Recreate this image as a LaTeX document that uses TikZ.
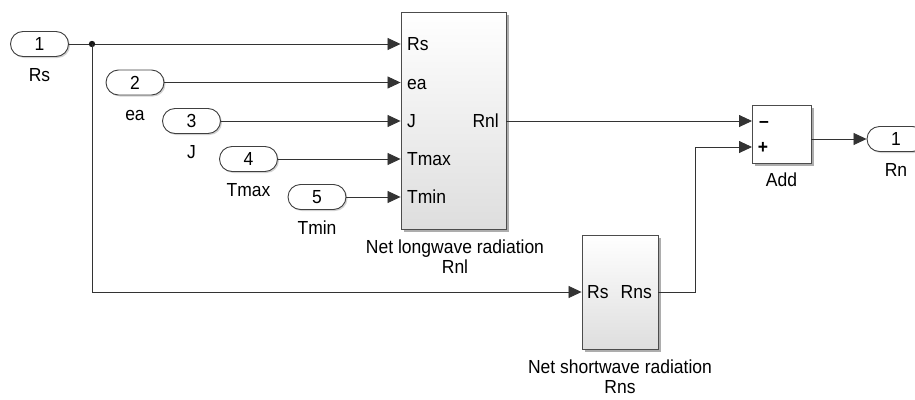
\documentclass[tikz,border=0pt]{standalone}
\usepackage{fontspec}
\setmainfont{Liberation Sans}
\usetikzlibrary{arrows.meta,shadows}
\newcommand{\stt}[1]{\scalebox{1}[1.08]{#1}}
\begin{document}
\begin{tikzpicture}[x=1pt,y=-1pt,
  font=\fontsize{17.5}{20}\selectfont,
  wire/.style={draw=black!80, line width=0.85pt},
  sig/.style={wire, -{Triangle[length=13pt,width=12pt]}},
  shd/.style={drop shadow={shadow xshift=2.5pt, shadow yshift=-2.5pt, fill=black!40, opacity=0.8}},
  inport/.style={draw=black!75, line width=0.9pt, fill=white, rounded corners=12.5pt,
    minimum width=58pt, minimum height=25pt, inner sep=0pt, text height=13.5pt, text depth=0pt,
    drop shadow={shadow xshift=1.5pt, shadow yshift=-1.5pt, fill=black!25, opacity=0.7}},
  blk/.style={draw=black!70, line width=0.9pt, top color=white, bottom color=black!13,
    inner sep=0pt, shd},
  addblk/.style={draw=black!70, line width=0.9pt, fill=white, inner sep=0pt, shd},
  lbl/.style={inner sep=0pt, text height=13.5pt, text depth=0pt},
  blbl/.style={inner sep=0pt, align=center, anchor=north}
]
\useasboundingbox (0,0) rectangle (915,399);

% inports
\node[inport] (in1) at (39.5,44) {\stt{1}};
\node[inport] (in2) at (135,82.5) {\stt{2}};
\node[inport] (in3) at (191.5,121) {\stt{3}};
\node[inport] (in4) at (248.5,159) {\stt{4}};
\node[inport] (in5) at (317,197) {\stt{5}};
\node[lbl] (l1) at ([yshift=-31pt]in1.center) {\stt{Rs}};
\node[lbl] (l2) at ([yshift=-31pt]in2.center) {\stt{ea}};
\node[lbl] (l3) at ([yshift=-31pt]in3.center) {\stt{J}};
\node[lbl] (l4) at ([yshift=-31pt]in4.center) {\stt{Tmax}};
\node[lbl] (l5) at ([yshift=-31pt]in5.center) {\stt{Tmin}};

% blocks
\node[blk, minimum width=105pt, minimum height=217pt] (rnl) at (453.5,120.5) {};
\node[blk, minimum width=76pt, minimum height=114pt] (rns) at (620,292) {};
\node[addblk, minimum width=59pt, minimum height=58pt] (add) at (781.5,134) {};

% outport
\node[inport] (out1) at (896,139) {\stt{1}};
\node[lbl] (lo) at ([yshift=-31pt]out1.center) {\stt{Rn}};

% port coordinates
\coordinate (addm) at (752,121);
\coordinate (addp) at (752,147);
\coordinate (addo) at (811,139);
\coordinate (rnlo) at (506,121);
\coordinate (bend) at (695,292);
\coordinate (j) at (92,44);

% port labels
\node[lbl, anchor=west] (pRs) at (407,44) {\stt{Rs}};
\node[lbl, anchor=west] (pea) at (407,82.5) {\stt{ea}};
\node[lbl, anchor=west] (pJ) at (407,121) {\stt{J}};
\node[lbl, anchor=west] (pTmax) at (407,159) {\stt{Tmax}};
\node[lbl, anchor=west] (pTmin) at (407,197) {\stt{Tmin}};
\node[lbl, anchor=east] (pRnl) at (499,121) {\stt{Rnl}};
\node[lbl, anchor=west] (pRs2) at (587,292) {\stt{Rs}};
\node[lbl, anchor=east] (pRns) at (652,292) {\stt{Rns}};
\node[lbl] (pm) at (764,121) {\stt{\textbf{–}}};
\node[lbl] (pp) at (763,147) {\stt{\textbf{+}}};

% block labels
\node[blbl] (lrnl) at (455,240) {\stt{Net longwave radiation}\\\stt{Rnl}};
\node[blbl] (lrns) at (620,360) {\stt{Net shortwave radiation}\\\stt{Rns}};
\node[lbl] (ladd) at (781.5,180) {\stt{Add}};

% connectors
\draw[sig] (in1.east) -- (in1.east -| rnl.west);
\draw[sig] (in2.east) -- (in2.east -| rnl.west);
\draw[sig] (in3.east) -- (in3.east -| rnl.west);
\draw[sig] (in4.east) -- (in4.east -| rnl.west);
\draw[sig] (in5.east) -- (in5.east -| rnl.west);
\fill[black!90] (j) circle (3.2pt);
\draw[sig] (j) |- (rns.west);
\draw[sig] (rnlo) -- (addm);
\draw[sig] (rns.east) -- (bend) |- (addp);
\draw[sig] (addo) -- (addo -| out1.west);
\end{tikzpicture}
\end{document}
